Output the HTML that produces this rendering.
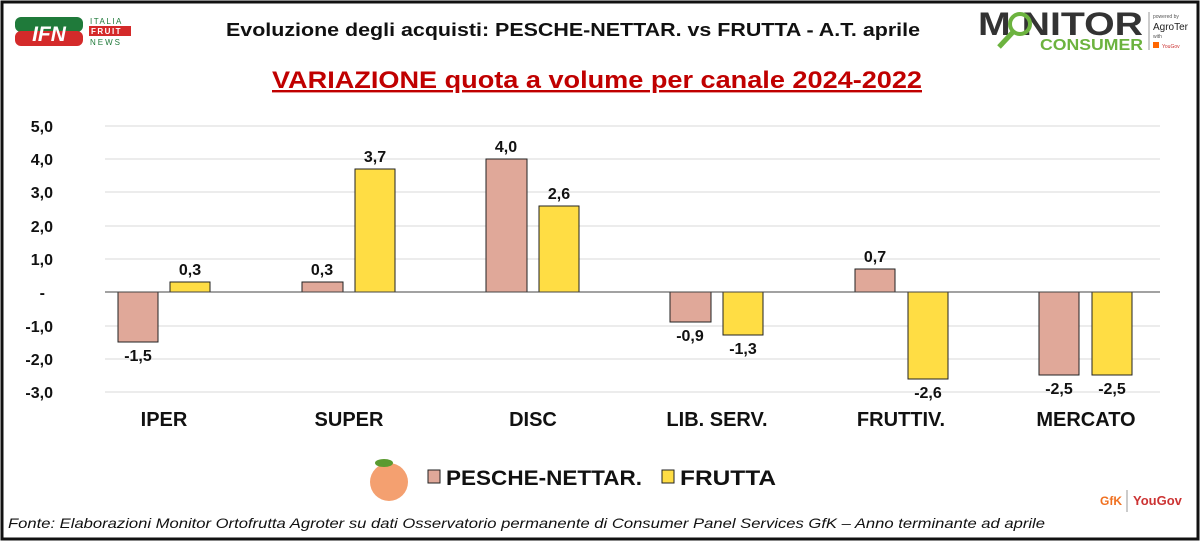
<!DOCTYPE html><html><head><meta charset="utf-8"><style>body{margin:0;background:#fff}svg{display:block;font-family:"Liberation Sans",Arial,sans-serif}</style></head><body>
<svg width="1200" height="541" viewBox="0 0 1200 541">
<rect x="2" y="2" width="1196" height="537" fill="#fff" stroke="#111" stroke-width="3"/>
<rect x="15" y="17" width="68" height="15" rx="6" fill="#1f7a3a"/>
<rect x="15" y="31" width="68" height="15" rx="6" fill="#d42a2a"/>
<text x="49" y="41" font-size="21" font-weight="bold" font-style="italic" fill="#fff" text-anchor="middle">IFN</text>
<text x="90" y="24" font-size="8" fill="#1f7a3a" letter-spacing="1.5">ITALIA</text>
<rect x="89" y="26" width="42" height="10" fill="#d42a2a"/>
<text x="91" y="34" font-size="8" fill="#fff" font-weight="bold" letter-spacing="1.5">FRUIT</text>
<text x="90" y="45" font-size="8" fill="#1f7a3a" letter-spacing="2">NEWS</text>
<text x="978" y="35" font-size="32" font-weight="bold" fill="#333" textLength="165" lengthAdjust="spacingAndGlyphs">M  NITOR</text>
<circle cx="1020" cy="24" r="10" fill="none" stroke="#6cb33f" stroke-width="4"/>
<line x1="1013" y1="32" x2="999" y2="47" stroke="#6cb33f" stroke-width="5"/>
<text x="1040" y="50" font-size="16" font-weight="bold" fill="#6cb33f" textLength="103" lengthAdjust="spacingAndGlyphs">CONSUMER</text>
<line x1="1149" y1="12" x2="1149" y2="50" stroke="#999"/>
<text x="1153" y="18" font-size="5" fill="#555">powered by</text>
<text x="1153" y="30" font-size="10" fill="#222">AgroTer</text>
<text x="1153" y="38" font-size="5" fill="#555">with</text>
<rect x="1153" y="42" width="6" height="6" fill="#f60"/><text x="1162" y="48" font-size="5" fill="#c33">YouGov</text>
<text x="226" y="36" font-size="18" font-weight="bold" fill="#111" textLength="694" lengthAdjust="spacingAndGlyphs">Evoluzione degli acquisti: PESCHE-NETTAR. vs FRUTTA  - A.T. aprile</text>
<text x="272" y="88" font-size="24" font-weight="bold" fill="#c00000" text-decoration="underline" textLength="650" lengthAdjust="spacingAndGlyphs">VARIAZIONE  quota a volume per canale 2024-2022</text>
<g stroke="#d9d9d9" stroke-width="1">
<line x1="105" y1="126" x2="1160" y2="126"/><line x1="105" y1="159" x2="1160" y2="159"/><line x1="105" y1="192" x2="1160" y2="192"/><line x1="105" y1="226" x2="1160" y2="226"/><line x1="105" y1="259" x2="1160" y2="259"/><line x1="105" y1="326" x2="1160" y2="326"/><line x1="105" y1="359" x2="1160" y2="359"/><line x1="105" y1="392" x2="1160" y2="392"/>
</g>
<g font-size="16" font-weight="bold" fill="#111" text-anchor="end">
<text x="53" y="132">5,0</text><text x="53" y="165">4,0</text><text x="53" y="198">3,0</text><text x="53" y="232">2,0</text><text x="53" y="265">1,0</text><text x="45" y="298">-</text><text x="53" y="332">-1,0</text><text x="53" y="365">-2,0</text><text x="53" y="398">-3,0</text>
</g>
<g stroke="#222" stroke-width="1">
<g fill="#e0a899">
<rect x="118" y="292" width="40" height="50"/><rect x="302" y="282" width="41" height="10"/><rect x="486" y="159" width="41" height="133"/><rect x="670" y="292" width="41" height="30"/><rect x="855" y="269" width="40" height="23"/><rect x="1039" y="292" width="40" height="83"/>
</g>
<g fill="#ffdd44">
<rect x="170" y="282" width="40" height="10"/><rect x="355" y="169" width="40" height="123"/><rect x="539" y="206" width="40" height="86"/><rect x="723" y="292" width="40" height="43"/><rect x="908" y="292" width="40" height="87"/><rect x="1092" y="292" width="40" height="83"/>
</g>
</g>
<line x1="105" y1="292" x2="1160" y2="292" stroke="#444" stroke-width="1"/>
<g font-size="16" font-weight="bold" fill="#111" text-anchor="middle">
<text x="138" y="361">-1,5</text><text x="190" y="275">0,3</text>
<text x="322" y="275">0,3</text><text x="375" y="162">3,7</text>
<text x="506" y="152">4,0</text><text x="559" y="199">2,6</text>
<text x="690" y="341">-0,9</text><text x="743" y="354">-1,3</text>
<text x="875" y="262">0,7</text><text x="928" y="398">-2,6</text>
<text x="1059" y="394">-2,5</text><text x="1112" y="394">-2,5</text>
</g>
<g font-size="20" font-weight="bold" fill="#111" text-anchor="middle">
<text x="164" y="426">IPER</text><text x="349" y="426">SUPER</text><text x="533" y="426">DISC</text><text x="717" y="426">LIB. SERV.</text><text x="901" y="426">FRUTTIV.</text><text x="1086" y="426">MERCATO</text>
</g>
<circle cx="389" cy="482" r="19" fill="#f4a070"/><ellipse cx="384" cy="463" rx="9" ry="4" fill="#5a9a30"/>
<rect x="428" y="470" width="12" height="13" fill="#e0a899" stroke="#222"/>
<text x="446" y="485" font-size="21" font-weight="bold" fill="#111" textLength="196" lengthAdjust="spacingAndGlyphs">PESCHE-NETTAR.</text>
<rect x="662" y="470" width="12" height="13" fill="#ffdd44" stroke="#222"/>
<text x="680" y="485" font-size="21" font-weight="bold" fill="#111" textLength="96" lengthAdjust="spacingAndGlyphs">FRUTTA</text>
<text x="1100" y="505" font-size="12" font-weight="bold" fill="#f07020">GfK</text>
<line x1="1127" y1="490" x2="1127" y2="512" stroke="#999"/>
<text x="1133" y="505" font-size="13" font-weight="bold" fill="#c33">YouGov</text>
<text x="8" y="528" font-size="14" font-style="italic" fill="#111" textLength="1037" lengthAdjust="spacingAndGlyphs">Fonte: Elaborazioni Monitor Ortofrutta Agroter su dati Osservatorio permanente di Consumer Panel Services GfK  – Anno terminante ad aprile</text>
</svg></body></html>
